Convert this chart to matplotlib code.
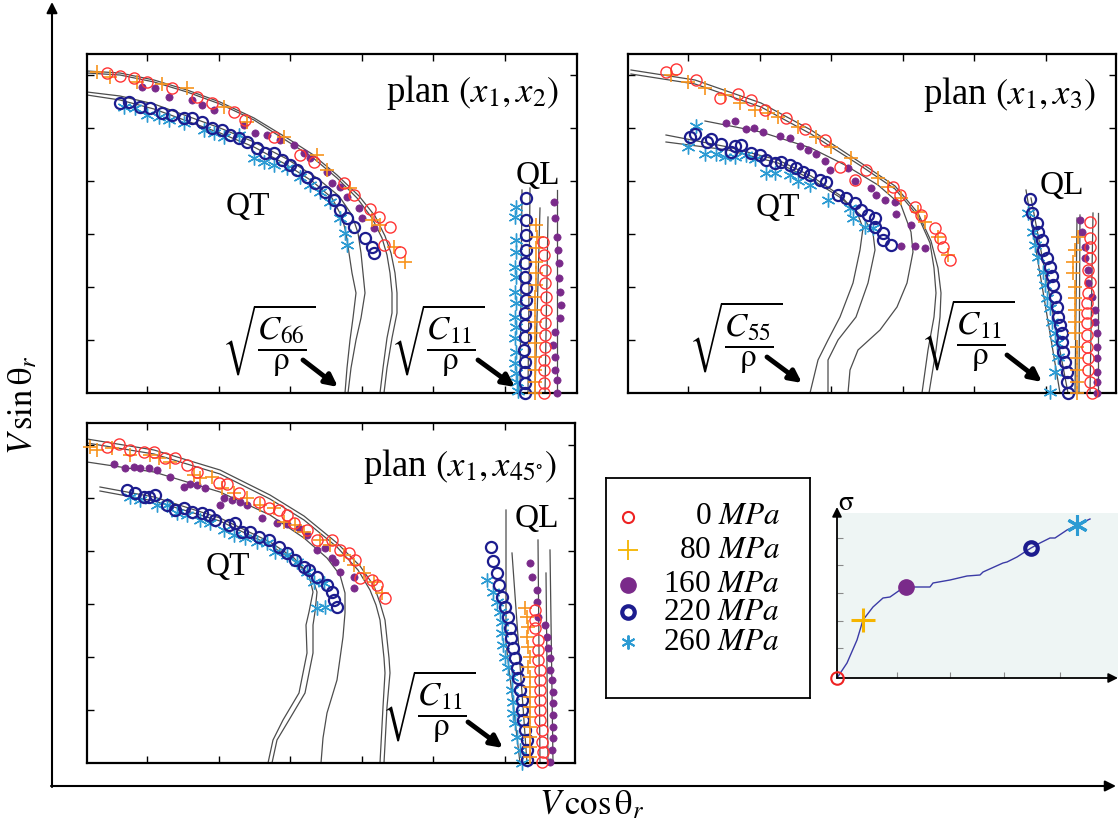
import numpy as np
import matplotlib
matplotlib.use("Agg")
import matplotlib.pyplot as plt

plt.rcParams['font.family'] = 'serif'
plt.rcParams['font.serif'] = ['Liberation Serif', 'DejaVu Serif']
plt.rcParams['mathtext.fontset'] = 'stix'

# ---------------- data (panel-relative units) ----------------
stress_labels = ['0', '80', '160', '220', '260']

# ---- plan (x1, x2) ----
p1_qt_0 = [(20,320),(33,317),(47,315),(60,311),(85,305),(110,296),(125,290),(147,281),(158,273),(187,256),(213,238),(227,231),(257,210),(267,198),(283,184),(292,176),(303,166),(297,148),(313,141)]
p1_qt_80 = [(10,321),(23,316),(50,311),(75,309),(100,305),(137,286),(160,271),(197,256),(230,238),(240,223),(263,205),(285,173),(293,168),(307,146),(318,131)]
p1_qt_160 = [(55,306),(68,305),(82,296),(105,293),(115,288),(127,283),(157,268),(168,260),(180,258),(193,253),(207,248),(217,240),(223,235),(240,221),(245,210),(253,206),(260,196),(272,185),(275,175),(287,165)]
p1_qt_220 = [(33,290),(42,291),(53,286),(63,285),(75,280),(85,278),(97,275),(105,275),(115,271),(125,265),(135,263),(143,258),(152,255),(160,251),(170,245),(178,240),(187,240),(195,233),(203,228),(210,223),(220,216),(228,210),(238,201),(247,193),(253,183),(260,175),(267,166),(278,155),(285,146),(287,140)]
p1_qt_260 = [(37,286),(48,285),(60,278),(72,276),(82,273),(97,270),(117,263),(127,260),(137,256),(152,258),(167,235),(177,231),(187,228),(200,225),(213,216),(223,208),(233,201),(243,191),(253,175),(258,160),(260,148)]
p1_ql_0 = [(456,151),(457,138),(458,123),(458,110),(459,96),(459,83),(458,70),(458,58),(458,46),(457,33),(457,23),(457,10),(457,0)]
p1_ql_80 = [(449,168),(450,156),(449,145),(449,131),(449,120),(449,108),(448,96),(448,83),(448,71),(448,60),(448,50),(448,36),(448,23),(448,11),(448,0)]
p1_ql_160 = [(467,191),(468,175),(470,156),(471,143),(472,130),(472,115),(473,101),(474,88),(473,75),(468,61),(466,48),(468,36),(468,23),(470,13),(470,0)]
p1_ql_220 = [(439,195),(439,173),(439,158),(439,143),(438,130),(438,116),(439,105),(439,93),(438,80),(438,68),(438,56),(437,43),(438,31),(438,21),(438,10),(438,0)]
p1_ql_260 = [(429,186),(428,176),(429,153),(429,141),(428,126),(429,116),(428,101),(429,90),(428,76),(429,66),(428,55),(429,41),(428,30),(429,20),(430,11),(431,2)]
p1_th_qt = [
    [(0,320),(33,318),(67,311),(100,301),(133,289),(167,273),(200,252),(225,236),(250,215),(270,195),(285,175),(295,155),(300,138),(303,120),(305,100),(305,80),(300,55),(296,25),(293,0)],
    [(0,322),(33,320),(67,313),(100,303),(133,291),(167,275),(200,255),(225,239),(250,218),(272,197),(288,177),(298,157),(304,140),(308,120),(310,100),(310,80),(305,55),(300,25),(297,0)],
    [(0,298),(33,293),(67,284),(100,272),(133,260),(167,246),(200,228),(225,212),(245,195),(255,176),(259,160),(262,140),(265,120),(269,100),(266,75),(263,53),(260,25),(258,0)],
    [(0,301),(33,297),(67,289),(100,277),(133,265),(167,251),(200,234),(230,215),(252,197),(265,178),(271,160),(274,140),(276,120),(278,100),(274,75),(269,53),(264,25),(261,0)],
]
p1_th_ql = [[(433,0),(435,203)],[(441,0),(443,205)],[(448,0),(453,185)],[(458,0),(461,176)],[(470,0),(470,203)]]

# ---- plan (x1, x3) ----
p2_qt_0 = [(38,321),(48,324),(68,313),(92,295),(110,299),(123,293),(137,283),(158,275),(177,264),(197,253),(212,226),(227,213),(238,223),(265,206),(272,198),(287,186),(293,178),(307,165),(312,155),(315,146),(322,133)]
p2_qt_80 = [(43,318),(60,311),(77,305),(97,298),(112,290),(127,283),(140,280),(150,276),(170,266),(188,256),(203,246),(223,235),(250,215),(260,206),(273,195),(290,181),(297,171),(310,156),(320,138)]
p2_qt_160 = [(98,270),(107,272),(118,264),(126,265),(135,261),(152,257),(162,255),(172,247),(180,243),(188,239),(197,232),(202,223),(220,225),(227,212),(243,205),(248,198),(257,193),(267,191),(268,179),(283,168),(273,147),(287,147),(297,145)]
p2_qt_220 = [(62,256),(67,259),(79,251),(83,254),(93,249),(103,241),(107,247),(113,248),(123,240),(132,238),(138,233),(147,230),(153,231),(162,228),(168,225),(175,221),(182,218),(192,213),(198,211),(210,198),(218,195),(227,190),(233,183),(240,178),(247,175),(247,166),(255,160),(255,153),(263,148)]
p2_qt_260 = [(68,267),(60,246),(77,239),(88,239),(97,236),(107,236),(118,238),(127,234),(138,220),(147,220),(162,218),(170,212),(182,208),(200,193),(222,185),(225,175),(237,166),(245,165)]
p2_ql_0 = [(462,171),(462,155),(462,146),(462,135),(460,123),(462,111),(460,100),(459,90),(459,80),(459,70),(459,58),(459,46),(460,35),(460,23),(462,11),(464,0)]
p2_ql_80 = [(450,156),(447,143),(445,131),(445,120),(447,106),(447,95),(447,83),(447,71),(447,60),(449,46),(449,35),(449,23),(449,11),(449,0)]
p2_ql_160 = [(452,173),(454,161),(457,146),(457,135),(460,123),(460,110),(464,96),(467,83),(467,71),(469,60),(469,46),(469,35),(469,21),(469,11),(469,0)]
p2_ql_220 = [(402,194),(404,180),(409,170),(410,161),(414,153),(415,143),(419,135),(422,126),(424,117),(425,108),(427,96),(429,86),(430,76),(432,68),(434,60),(434,51),(435,41),(437,31),(439,21),(439,11),(440,0)]
p2_ql_260 = [(400,180),(405,161),(407,148),(410,136),(415,121),(417,108),(419,95),(422,85),(424,71),(427,60),(429,50),(430,36),(427,21),(422,1)]
p2_th_qt = [
    [(3,323),(67,313),(133,290),(183,263),(233,230),(267,207),(290,180),(303,152),(310,125),(313,100),(312,76),(308,43),(301,0)],
    [(3,319),(67,309),(133,286),(183,259),(233,227),(267,204),(290,177),(302,150),(306,125),(308,100),(306,76),(300,43),(294,0)],
    [(77,272),(133,261),(183,245),(217,228),(250,208),(273,188),(283,161),(285,141),(279,110),(269,86),(252,63),(230,43),(222,23),(220,0)],
    [(38,258),(100,246),(150,233),(183,217),(213,197),(230,178),(235,165),(232,143),(225,110),(212,76),(200,53),(190,33),(182,0)],
    [(38,251),(100,243),(150,230),(183,214),(213,195),(235,176),(245,160),(247,143),(240,110),(228,76),(210,53),(200,33),(200,0)],
]
p2_th_ql = [[(398,203),(432,0)],[(403,195),(440,0)],[(449,175),(447,0)],[(452,178),(451,0)],[(465,180),(462,0)],[(470,180),(470,0)]]

# ---- plan (x1, x45) ----
p3_qt_0 = [(20,316),(32,319),(43,313),(57,311),(67,311),(78,305),(88,305),(100,298),(110,291),(132,280),(140,279),(152,270),(172,261),(182,255),(192,253),(200,248),(207,240),(220,233),(230,223),(245,223),(253,213),(262,210),(268,203),(273,185),(285,183),(290,178),(298,165)]
p3_qt_80 = [(3,316),(10,313),(25,315),(43,308),(63,308),(72,305),(83,301),(107,288),(113,285),(125,286),(135,275),(147,270),(160,265),(173,258),(187,255),(197,241),(208,238),(217,231),(233,223),(243,218),(257,208),(267,198),(277,190),(287,181),(295,170)]
p3_qt_160 = [(27,299),(38,295),(47,296),(53,295),(62,295),(70,293),(83,286),(97,276),(103,279),(110,278),(118,275),(133,258),(137,265),(145,263),(153,261),(160,258),(175,245),(190,240),(200,239),(212,235),(220,228),(230,213),(238,215),(245,205),(248,201),(253,191),(267,186),(267,175)]
p3_qt_220 = [(40,273),(48,270),(57,266),(62,266),(68,268),(80,258),(88,253),(97,255),(105,251),(115,250),(122,248),(128,243),(142,238),(148,240),(155,231),(163,231),(172,226),(182,223),(192,216),(200,210),(208,203),(217,196),(222,193),(230,186),(240,178),(245,171),(247,163),(250,156)]
p3_qt_260 = [(43,266),(53,263),(70,258),(80,258),(90,250),(100,248),(113,243),(123,240),(137,233),(147,228),(158,225),(170,221),(180,220),(188,211),(200,208),(210,201),(220,191),(227,181),(237,180),(230,155),(238,156)]
p3_ql_0 = [(448,153),(448,143),(448,135),(451,123),(451,113),(451,103),(453,93),(453,83),(453,73),(453,63),(453,53),(453,43),(455,33),(455,21),(456,11),(455,1)]
p3_ql_80 = [(438,155),(440,146),(441,136),(440,126),(441,116),(443,106),(441,96),(443,86),(443,76),(443,66),(443,56),(443,46),(443,36),(443,26),(443,16),(443,6)]
p3_ql_160 = [(443,200),(445,186),(450,173),(450,161),(451,146),(458,138),(460,126),(461,115),(463,105),(463,93),(465,83),(466,71),(466,60),(466,48),(466,36),(466,25),(465,13),(463,1)]
p3_ql_220 = [(404,216),(406,202),(410,190),(412,178),(415,166),(418,156),(421,146),(423,135),(424,125),(426,115),(428,105),(430,95),(431,85),(433,73),(435,63),(435,53),(436,43),(438,33),(440,23),(440,13),(440,3)]
p3_ql_260 = [(400,183),(406,171),(410,161),(413,151),(415,141),(415,130),(416,118),(418,106),(421,96),(425,86),(425,73),(426,61),(426,50),(428,40),(430,26),(433,13),(435,0)]
p3_th_qt = [
    [(0,324),(67,313),(133,293),(183,268),(217,247),(250,220),(273,197),(287,177),(293,160),(298,143),(302,105),(303,90),(300,56),(297,0)],
    [(0,320),(67,309),(133,289),(183,264),(217,243),(250,216),(271,193),(283,173),(289,158),(293,143),(297,105),(298,90),(296,56),(293,0)],
    [(0,301),(67,291),(133,271),(183,248),(217,225),(240,205),(253,188),(258,170),(258,150),(256,126),(250,83),(240,50),(236,25),(234,0)],
    [(13,276),(67,266),(133,245),(183,221),(207,205),(222,188),(226,171),(222,151),(219,138),(220,110),(212,70),(196,43),(186,23),(181,0)],
    [(13,272),(67,262),(133,242),(183,218),(207,202),(225,186),(230,171),(228,151),(226,138),(226,110),(218,70),(202,43),(190,23),(185,0)],
]
p3_th_ql = [[(419,253),(419,120),(433,0)],[(425,210),(440,0)],[(451,223),(453,0)],[(463,213),(466,0)],[(459,190),(461,0)]]

# ---- stress-strain inset ----
inset_eps = [0,10,20,26,36,46,53,63,69,80,93,96,113,130,143,146,166,170,180,194,203,213,218,230,240,253]
inset_sig = [0,15,38,58,71,80,81,88,91,91,91,95,98,102,103,106,115,116,121,130,135,140,140,148,153,159]
inset_pt_eps = [0, 26, 69, 194, 240]
inset_pt_sig = [0, 58, 91, 130, 153]

# ---------------- styles ----------------
RED, ORANGE, PURPLE, NAVY, CYAN = '#ff3434', '#f7941d', '#7a2a8a', '#1c1c8e', '#2c9bd3'
styles = {
    '0':   dict(marker='o', ms=8, mfc='none', mec=RED, mew=1.0),
    '80':  dict(marker='+', ms=10, mec=ORANGE, mew=1.2),
    '160': dict(marker='o', ms=5.2, mfc=PURPLE, mec=PURPLE, mew=0.5),
    '220': dict(marker='o', ms=8, mfc='none', mec=NAVY, mew=1.6),
    '260': dict(marker=(6, 2, 0), ms=10, mec=CYAN, mew=1.0),
}
draw_order = ['260', '220', '160', '80', '0']
THEORY = '#4d4d4d'

W, H = 1118, 834
fig = plt.figure(figsize=(W / 100, H / 100), dpi=100)


def box(x0, y0, x1, y1):
    return [x0 / W, 1 - y1 / H, (x1 - x0) / W, (y1 - y0) / H]


bg = fig.add_axes([0, 0, 1, 1])
bg.set_xlim(0, W)
bg.set_ylim(H, 0)
bg.axis('off')
arr = dict(arrowstyle='-|>', lw=1.5, color='k', mutation_scale=16, shrinkA=0, shrinkB=0)
bg.annotate('', xy=(52, 2), xytext=(52, 787), arrowprops=arr)
bg.annotate('', xy=(1116, 786), xytext=(51, 786), arrowprops=arr)
bg.text(24, 405, r'$V\,\sin\mathrm{\theta}_r$', rotation=90, ha='center', va='center', fontsize=25)
bg.text(592, 806, r'$V\,\cos\mathrm{\theta}_r$', ha='center', va='center', fontsize=25)


def panel(rect, qt, ql, th_qt, th_ql, title, tpos, qtpos, qlpos, labels):
    ax = fig.add_axes(rect)
    w = (rect[2] * W)
    h = (rect[3] * H)
    ax.set_xlim(0, w)
    ax.set_ylim(0, h)
    for c in th_qt + th_ql:
        a = np.array(c)
        ax.plot(a[:, 0], a[:, 1], color=THEORY, lw=0.9, zorder=2)
    for k in draw_order:
        for d in (qt[k], ql[k]):
            a = np.array(d)
            ax.plot(a[:, 0], a[:, 1], ls='none', zorder=3, clip_on=False, **styles[k])
    ax.set_xticks([60 + 71.6 * i for i in range(6)])
    ax.set_yticks([53 * i for i in range(1, 7)])
    ax.tick_params(direction='in', length=5, width=1, top=True, right=True,
                   labelbottom=False, labelleft=False)
    for s in ax.spines.values():
        s.set_linewidth(1.6)
    ax.text(tpos[0], tpos[1], title, ha='center', va='center', fontsize=26.5)
    ax.text(qtpos[0], qtpos[1], 'QT', ha='center', va='center', fontsize=24)
    ax.text(qlpos[0], qlpos[1], 'QL', ha='center', va='center', fontsize=24)
    for (lab, lp, tail, head) in labels:
        ax.text(lp[0], lp[1], lab, ha='center', va='center', fontsize=24)
        ax.annotate('', xy=head, xytext=tail,
                    arrowprops=dict(arrowstyle='-|>', lw=3.5, color='k',
                                    mutation_scale=18, shrinkA=0, shrinkB=0))
    return ax


sq66 = r'$\sqrt{\dfrac{C_{66}}{\mathrm{\rho}}}$'
sq55 = r'$\sqrt{\dfrac{C_{55}}{\mathrm{\rho}}}$'
sq11 = r'$\sqrt{\dfrac{C_{11}}{\mathrm{\rho}}}$'

panel(box(87, 54, 577, 393),
      {'0': p1_qt_0, '80': p1_qt_80, '160': p1_qt_160, '220': p1_qt_220, '260': p1_qt_260},
      {'0': p1_ql_0, '80': p1_ql_80, '160': p1_ql_160, '220': p1_ql_220, '260': p1_ql_260},
      p1_th_qt, p1_th_ql, r'plan $(x_1,x_2)$', (386, 300), (161, 186), (451, 217),
      [(sq66, (182, 53), (216, 33), (251, 6)), (sq11, (351, 53), (391, 33), (428, 6))])

panel(box(628, 54, 1116, 393),
      {'0': p2_qt_0, '80': p2_qt_80, '160': p2_qt_160, '220': p2_qt_220, '260': p2_qt_260},
      {'0': p2_ql_0, '80': p2_ql_80, '160': p2_ql_160, '220': p2_ql_220, '260': p2_ql_260},
      p2_th_qt, p2_th_ql, r'plan $(x_1,x_3)$', (382, 298), (150, 185), (434, 207),
      [(sq55, (108, 56), (139, 36), (174, 10)), (sq11, (340, 58), (379, 38), (414, 11))])

panel(box(87, 423, 575, 763),
      {'0': p3_qt_0, '80': p3_qt_80, '160': p3_qt_160, '220': p3_qt_220, '260': p3_qt_260},
      {'0': p3_ql_0, '80': p3_ql_80, '160': p3_ql_160, '220': p3_ql_220, '260': p3_ql_260},
      p3_th_qt, p3_th_ql, r'plan $(x_1,x_{45^{\circ}})$', (373, 297), (141, 196), (450, 244),
      [(sq11, (342, 57), (381, 41), (416, 15))])

# ---------------- legend box ----------------
lg = fig.add_axes(box(606, 478, 810, 698))
lg.set_xlim(0, 204)
lg.set_ylim(220, 0)
lg.set_xticks([])
lg.set_yticks([])
for s in lg.spines.values():
    s.set_linewidth(1.3)
leg_styles = {
    '0':   dict(marker='o', ms=8, mfc='none', mec='#ee2222', mew=1.5),
    '80':  dict(marker='+', ms=14, mec='#f5b400', mew=1.3),
    '160': dict(marker='o', ms=11, mfc=PURPLE, mec=PURPLE),
    '220': dict(marker='o', ms=9, mfc='none', mec=NAVY, mew=3),
    '260': dict(marker=(6, 2, 0), ms=10, mec=CYAN, mew=1.4),
}
leg_y = [39, 72, 107, 134, 164]
for k, yy in zip(stress_labels, leg_y):
    lg.plot([22], [yy], ls='none', **leg_styles[k])
    lg.text(174, yy, k + r' $\mathit{MPa}$', ha='right', va='center', fontsize=22.5)

# ---------------- stress-strain inset ----------------
ins = fig.add_axes(box(837, 513, 1118, 678))
ins.set_facecolor('#eef5f4')
ins.set_xlim(0, 281)
ins.set_ylim(0, 165)
for s in ins.spines.values():
    s.set_visible(False)
ins.set_xticks([60, 113, 167, 223])
ins.set_yticks([30, 57, 85, 113, 140])
ins.tick_params(direction='in', length=4, color='#8a8a8a', labelbottom=False, labelleft=False)
iarr = dict(arrowstyle='-|>', lw=1.3, color='k', mutation_scale=14, shrinkA=0, shrinkB=0)
ins.annotate('', xy=(0, 171), xytext=(0, 0), arrowprops=iarr, annotation_clip=False)
ins.annotate('', xy=(281, 0), xytext=(0, 0), arrowprops=iarr, annotation_clip=False)
ins.plot(inset_eps, inset_sig, color='#3b3ba6', lw=1.0, clip_on=False)
ins_styles = {
    '0':   dict(marker='o', ms=9, mfc='none', mec='#ee2222', mew=1.5),
    '80':  dict(marker='+', ms=17, mec='#f5b400', mew=2.2),
    '160': dict(marker='o', ms=11, mfc=PURPLE, mec=PURPLE),
    '220': dict(marker='o', ms=9, mfc='none', mec=NAVY, mew=3),
    '260': dict(marker=(6, 2, 0), ms=15, mec=CYAN, mew=2.2),
}
for k, ex, sy in zip(stress_labels, inset_pt_eps, inset_pt_sig):
    ins.plot([ex], [sy], ls='none', clip_on=False, zorder=4, **ins_styles[k])
bg.text(846, 504, r'$\mathrm{\sigma}$', ha='center', va='center', fontsize=20)
bg.text(1105, 662, r'$\mathrm{\varepsilon}$', ha='center', va='center', fontsize=20)

fig.savefig('out.png', dpi=100)
